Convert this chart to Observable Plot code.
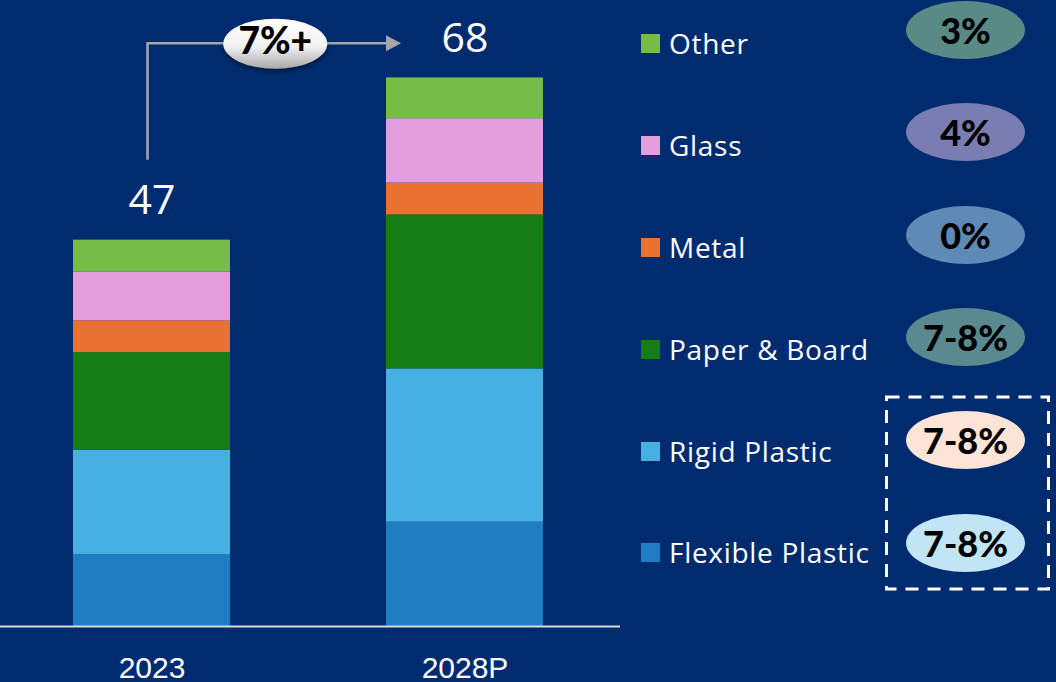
<!DOCTYPE html>
<html>
<head>
<meta charset="utf-8">
<script src="https://cdn.jsdelivr.net/npm/d3@7"></script>
<script src="https://cdn.jsdelivr.net/npm/@observablehq/plot@0.6"></script>
<style>
  html, body { margin: 0; padding: 0; background: #002c6f; width: 1056px; height: 682px; overflow: hidden; }
  #wrap { position: relative; width: 1056px; height: 682px; background: #002c6f; }
  #chart { position: absolute; left: 0; top: 0; }
  .leg { position: absolute; left: 641px; height: 40px; display: flex; align-items: center; font-family: "Open Sans", sans-serif; font-size: 28px; letter-spacing: 0.7px; color: #fff; white-space: nowrap; }
  .sw { width: 19px; height: 19px; margin-right: 9px; flex: none; }
  .pill { position: absolute; left: 906px; width: 119px; height: 58px; border-radius: 50%; display: flex; align-items: center; justify-content: center; font-family: Lato, "Liberation Sans", sans-serif; font-weight: 900; font-size: 36px; color: #000; }
  #box { position: absolute; left: 0; top: 0; pointer-events: none; }
</style>
</head>
<body>
<div id="wrap">
  <div id="chart"></div>
</div>
<script>
// ---------- data ----------
const years = ["2023", "2028P"];
const totals = [47, 68];
const categories = ["Flexible Plastic", "Rigid Plastic", "Paper & Board", "Metal", "Glass", "Other"];
const colors = ["#1f7ec2", "#45b0e1", "#147e14", "#e97132", "#e49edd", "#75bd47"];
const values2023 = [8.8, 12.8, 12.0, 3.9, 6.0, 3.9];
const values2028P = [12.8, 18.8, 18.9, 3.9, 7.9, 5.0];
const growth = ["7-8%", "7-8%", "7-8%", "0%", "4%", "3%"];
const pillColors = ["#c1e5f5", "#fce4d6", "#5a8a90", "#5f8ab8", "#7a7db2", "#5a8a86"];
const cagrLabel = "7%+";

// ---------- build table ----------
const seriesByYear = [values2023, values2028P];
const rows = [];
years.forEach((yr, i) => {
  categories.forEach((c, j) => rows.push({ year: yr, category: c, value: seriesByYear[i][j] }));
});
const totalRows = years.map((yr, i) => ({ year: yr, label: String(totals[i]), top: d3.sum(seriesByYear[i]) }));

const yMax = 76.8;
const chart = Plot.plot({
  width: 620,
  height: 682,
  marginTop: 0,
  marginBottom: 56,
  marginLeft: 0,
  marginRight: 0,
  style: { background: "transparent", overflow: "visible", color: "#fff" },
  x: { domain: years, paddingInner: 0.5, paddingOuter: 0.24, align: 0.485, label: null },
  y: { domain: [0, yMax], axis: null },
  color: { domain: categories, range: colors },
  marks: [
    Plot.barY(rows, { x: "year", y: "value", fill: "category", inset: 0 }),
    Plot.ruleY([0], { stroke: "#d9d9d9", strokeWidth: 2 }),
    Plot.axisX({ tickSize: 0, tickPadding: 30, fontSize: 30, fill: "#fff", fontFamily: "'Liberation Sans', sans-serif", label: null }),
    Plot.text(totalRows, { x: "year", y: "top", text: "label", dy: -26, lineAnchor: "bottom", fill: "#fff", fontSize: 41, fontFamily: "'Open Sans', sans-serif" })
  ]
});
document.getElementById("chart").appendChild(chart);

// ---------- CAGR arrow annotation (using the plot's own scales) ----------
const sx = chart.scale("x"), sy = chart.scale("y");
const svg = d3.select(chart);
const x0 = sx.apply("2023") + sx.bandwidth / 2 - 4;
const xEnd = sx.apply("2028P") + 15;
const yFrom = sy.apply(57.2), yLevel = sy.apply(71.5);
const defs = svg.append("defs");
const grad = defs.append("linearGradient").attr("id", "pillgrad").attr("x1", 0).attr("y1", 0).attr("x2", 0).attr("y2", 1);
grad.append("stop").attr("offset", "0%").attr("stop-color", "#ffffff");
grad.append("stop").attr("offset", "55%").attr("stop-color", "#f2f2f2");
grad.append("stop").attr("offset", "100%").attr("stop-color", "#a8a8a8");
const filt = defs.append("filter").attr("id", "shadow").attr("x", "-20%").attr("y", "-20%").attr("width", "140%").attr("height", "160%");
filt.append("feDropShadow").attr("dx", 0).attr("dy", 3).attr("stdDeviation", 2.5).attr("flood-color", "#000").attr("flood-opacity", 0.45);

const g = svg.append("g");
g.append("path")
  .attr("d", `M${x0},${yFrom}V${yLevel}H${xEnd - 14}`)
  .attr("fill", "none").attr("stroke", "#a6a6a6").attr("stroke-width", 2.5);
g.append("path")
  .attr("d", `M${xEnd - 15},${yLevel - 8}L${xEnd},${yLevel}L${xEnd - 15},${yLevel + 8}Z`)
  .attr("fill", "#a6a6a6");
const cx = (x0 + xEnd) / 2 + 1;
g.append("ellipse").attr("cx", cx).attr("cy", yLevel + 0.5).attr("rx", 52).attr("ry", 25)
  .attr("fill", "url(#pillgrad)").attr("filter", "url(#shadow)");
g.append("text").attr("x", cx).attr("y", yLevel + 1.5).attr("text-anchor", "middle").attr("dominant-baseline", "middle")
  .attr("font-family", "Lato, 'Liberation Sans', sans-serif").attr("font-weight", 900).attr("font-size", 37).attr("fill", "#000")
  .text(cagrLabel);

// ---------- legend + growth pills ----------
const wrap = document.getElementById("wrap");
const legendCenters = [552, 451, 349, 247, 145, 43];
const pillCenters = [543, 440, 337, 235, 132, 30];
categories.forEach((c, j) => {
  const item = document.createElement("div");
  item.className = "leg";
  item.style.top = (legendCenters[j] - 20) + "px";
  item.innerHTML = `<span class="sw" style="background:${colors[j]}"></span><span></span>`;
  item.lastChild.textContent = c;
  wrap.appendChild(item);
  const pill = document.createElement("div");
  pill.className = "pill";
  pill.style.top = (pillCenters[j] - 29) + "px";
  pill.style.background = pillColors[j];
  pill.textContent = growth[j];
  wrap.appendChild(pill);
});
// dashed highlight box around the plastic growth rates
const ns = "http://www.w3.org/2000/svg";
const box = document.createElementNS(ns, "svg");
box.setAttribute("id", "box");
box.setAttribute("width", 1056);
box.setAttribute("height", 682);
const rect = document.createElementNS(ns, "rect");
rect.setAttribute("x", 886.5); rect.setAttribute("y", 397);
rect.setAttribute("width", 162); rect.setAttribute("height", 192);
rect.setAttribute("fill", "none"); rect.setAttribute("stroke", "#fff");
rect.setAttribute("stroke-width", 3); rect.setAttribute("stroke-dasharray", "13 9");
box.appendChild(rect);
wrap.appendChild(box);
</script>
</body>
</html>
